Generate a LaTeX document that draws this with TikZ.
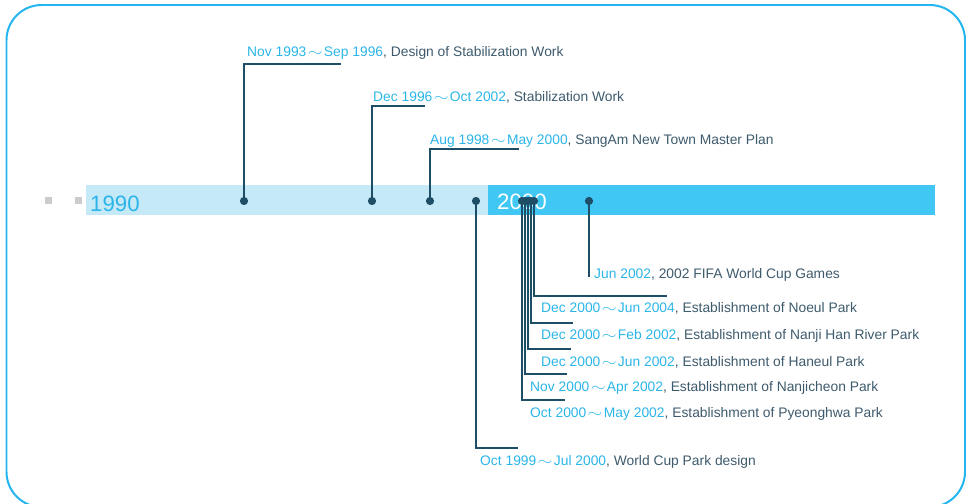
\documentclass[tikz,border=0pt]{standalone}
\usepackage{fontspec}
\setmainfont{Liberation Sans}
\usetikzlibrary{positioning}
\definecolor{rim}{HTML}{22B5EE}
\definecolor{pale}{HTML}{C6E9F8}
\definecolor{sky}{HTML}{40C7F4}
\definecolor{datec}{HTML}{2BB5E8}
\definecolor{ink}{HTML}{3D5A6C}
\definecolor{stemc}{HTML}{1E4D66}
\definecolor{tick}{HTML}{CCCCCC}
\newcommand{\til}{\kern1.2pt\scalebox{1.35}[1]{$\sim$}\kern1.2pt}
\newcommand{\evt}[2]{\textcolor{datec}{#1},\ #2}

\begin{document}
\begin{tikzpicture}[x=0.03cm,y=-0.03cm,
  pin/.style={circle,fill=stemc,inner sep=0pt,minimum size=7pt},
  lbl/.style={anchor=base west,inner sep=0pt,text=ink,font=\fontsize{11.8}{14}\selectfont},
  yr/.style={anchor=base west,inner sep=0pt,font=\fontsize{19}{22}\selectfont},
  stem/.style={draw=stemc,line width=1.1pt}]
  \useasboundingbox (0,0) rectangle (966,504);
  % frame, cut at the page edge
  \begin{scope}
    \clip (0,0) rectangle (966,504);
    \draw[rim,line width=1.7pt,rounded corners=30pt] (6.5,5) rectangle (965,507);
  \end{scope}
  % time bar
  \fill[pale] (86,185) rectangle (488,215);
  \fill[sky] (488,185) rectangle (935,215);
  \fill[tick] (45,197) rectangle (52,204);
  \fill[tick] (75,197) rectangle (82,204);
  \node[yr,text=datec] (y90) at (90,211) {1990};
  \node[yr,text=white] (y00) at (497,209.5) {2000};
  % events
  \node[lbl] (la) at (247,56.7) {\evt{Nov 1993\til Sep 1996}{Design of Stabilization Work}};
  \node[lbl] (lb) at (373,101.7) {\evt{Dec 1996\til Oct 2002}{Stabilization Work}};
  \node[lbl] (lc) at (430,144) {\evt{Aug 1998\til May 2000}{SangAm New Town Master Plan}};
  \node[lbl] (ld) at (480,465) {\evt{Oct 1999\til Jul 2000}{World Cup Park design}};
  \node[lbl] (le) at (530,417.5) {\evt{Oct 2000\til May 2002}{Establishment of Pyeonghwa Park}};
  \node[lbl] (lf) at (530,391) {\evt{Nov 2000\til Apr 2002}{Establishment of Nanjicheon Park}};
  \node[lbl] (lg) at (541,366) {\evt{Dec 2000\til Jun 2002}{Establishment of Haneul Park}};
  \node[lbl] (lh) at (541,339) {\evt{Dec 2000\til Feb 2002}{Establishment of Nanji Han River Park}};
  \node[lbl] (li) at (541,312) {\evt{Dec 2000\til Jun 2004}{Establishment of Noeul Park}};
  \node[lbl] (lj) at (594,278) {\evt{Jun 2002}{2002 FIFA World Cup Games}};
  % elbow ends
  \coordinate (ea) at (341,64);
  \coordinate (eb) at (425,106);
  \coordinate (ec) at (519,149);
  \coordinate (ed) at (518,448);
  \coordinate (ee) at (565,400);
  \coordinate (ef) at (567,374);
  \coordinate (eg) at (571,349);
  \coordinate (eh) at (573,323);
  \coordinate (ei) at (667,296);
  \coordinate (ej) at (589,277);
  \foreach \n/\x in {a/244,b/372,c/430,d/476,e/522,f/525,g/528,h/531,i/534,j/589}
    \node[pin] (\n) at (\x,201) {};
  \foreach \s in {a,...,j} {\draw[stem] (\s.center) |- (e\s);}
\end{tikzpicture}
\end{document}
